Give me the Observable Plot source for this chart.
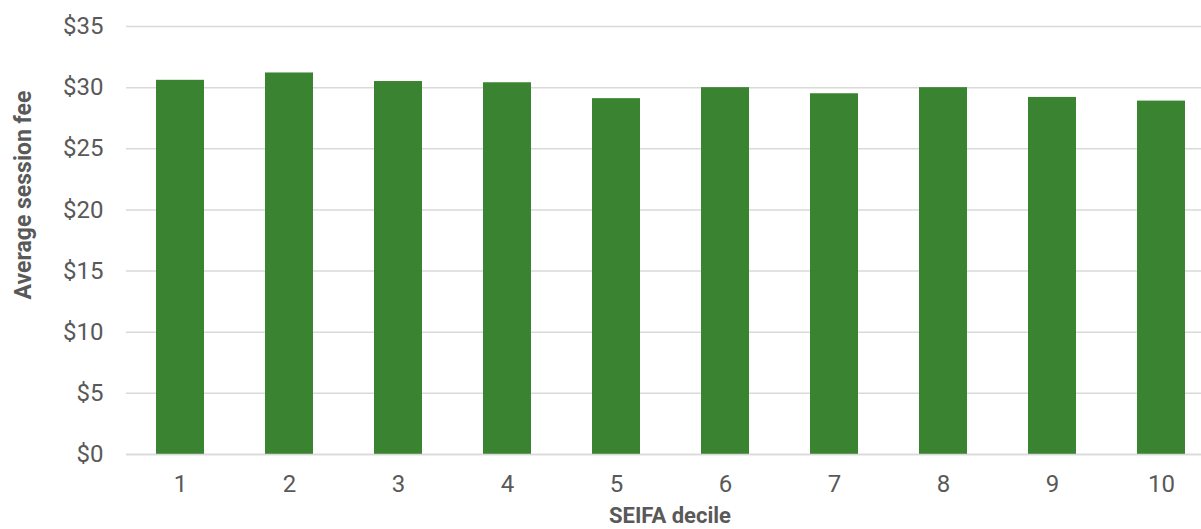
<!DOCTYPE html>
<html>
<head>
<meta charset="utf-8">
<script src="https://cdn.jsdelivr.net/npm/d3@7"></script>
<script src="https://cdn.jsdelivr.net/npm/@observablehq/plot@0.6"></script>
<style>
  html, body { margin: 0; padding: 0; background: #fff; }
  svg { display: block; }
</style>
</head>
<body>
<div id="chart"></div>
<script>
const deciles = ["1", "2", "3", "4", "5", "6", "7", "8", "9", "10"];
const fees = [30.6, 31.2, 30.5, 30.4, 29.1, 30.0, 29.5, 30.0, 29.2, 28.9];
const yTicks = [0, 5, 10, 15, 20, 25, 30, 35];
const xTitle = "SEIFA decile";
const yTitle = "Average session fee";

const data = deciles.map((d, i) => ({decile: d, fee: fees[i]}));

const W = 1201, H = 529;
const mL = 126, mR = 0, mT = 26, mB = 75;

const plot = Plot.plot({
  width: W,
  height: H,
  marginLeft: mL,
  marginRight: mR,
  marginTop: mT,
  marginBottom: mB,
  style: {fontFamily: "Roboto, sans-serif", fontSize: "24px", color: "#595959", background: "#fff"},
  x: {domain: deciles, paddingInner: 0.559, paddingOuter: 0.21, align: 0.654, label: null},
  y: {domain: [0, 35], label: null},
  marks: [
    Plot.gridY(yTicks, {stroke: "#d9d9d9", strokeOpacity: 1, strokeWidth: 1.5}),
    Plot.barY(data, {x: "decile", y: "fee", fill: "#3a8431"}),
    Plot.ruleY([0], {stroke: "#d9d9d9", strokeWidth: 1.5}),
    Plot.axisY(yTicks, {tickSize: 0, tickPadding: 23, tickFormat: d => "$" + d, fill: "#595959", fontSize: 24, label: null}),
    Plot.axisX({tickSize: 0, tickPadding: 20, fill: "#595959", fontSize: 24, label: null})
  ]
});

const svg = d3.select(plot);
svg.append("text")
  .attr("x", 670)
  .attr("y", 523)
  .attr("text-anchor", "middle")
  .attr("font-family", "Roboto, sans-serif")
  .attr("font-weight", "bold")
  .attr("font-size", 22)
  .attr("fill", "#595959")
  .text(xTitle);
svg.append("text")
  .attr("transform", "translate(31,195) rotate(-90)")
  .attr("text-anchor", "middle")
  .attr("font-family", "Roboto, sans-serif")
  .attr("font-weight", "bold")
  .attr("font-size", 23)
  .attr("fill", "#595959")
  .text(yTitle);

document.getElementById("chart").appendChild(plot);
</script>
</body>
</html>
